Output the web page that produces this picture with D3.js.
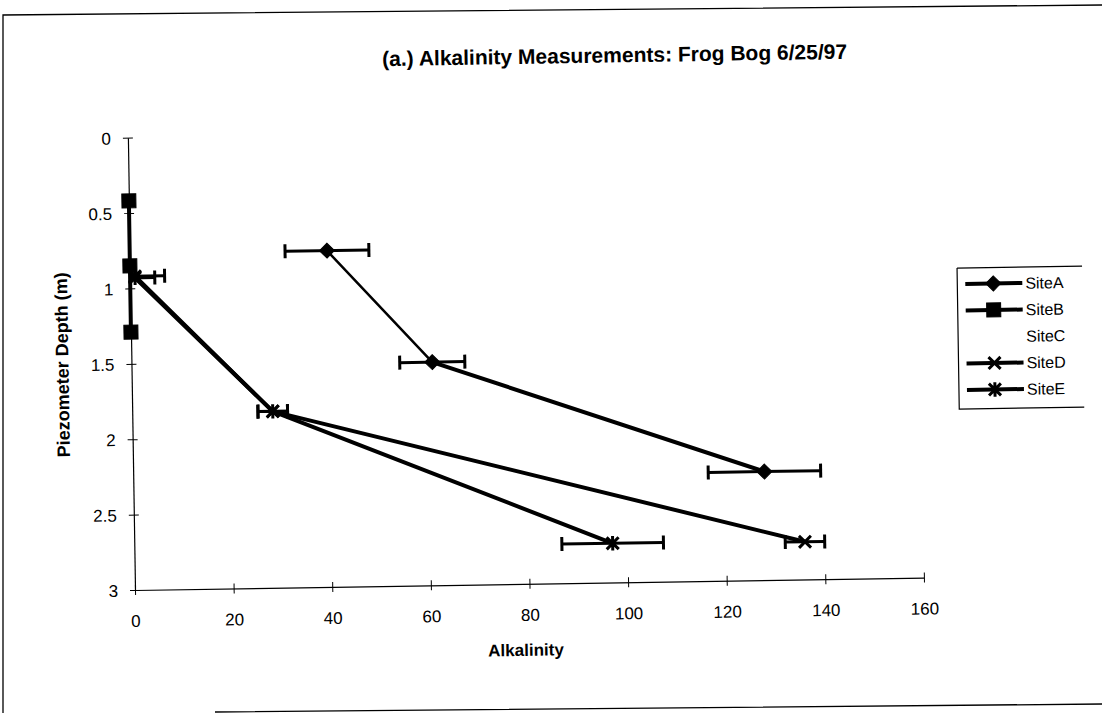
<!DOCTYPE html>
<html>
<head>
<meta charset="utf-8">
<script src="https://cdn.jsdelivr.net/npm/d3@7"></script>
<style>
  body { margin: 0; background: #fff; }
  text { font-family: "Liberation Sans", Arial, sans-serif; fill: #000; }
</style>
</head>
<body>
<svg id="chart"></svg>
<script>
const siteNames = ["SiteA", "SiteB", "SiteC", "SiteD", "SiteE"];

// alkalinity, depth (m), error (+/- alkalinity)
const siteA = [
  { alk: 40, depth: 0.77, err: 8.5 },
  { alk: 61, depth: 1.52, err: 6.6 },
  { alk: 128, depth: 2.28, err: 11.4 }
];
const siteB = [
  { alk: 0, depth: 0.42, err: 0 },
  { alk: 0, depth: 0.85, err: 0 },
  { alk: 0, depth: 1.29, err: 0 }
];
const siteC = [];
const siteD = [
  { alk: 1, depth: 0.92, err: 6 },
  { alk: 28.5, depth: 1.83, err: 3 },
  { alk: 136, depth: 2.75, err: 4 }
];
const siteE = [
  { alk: 1, depth: 0.93, err: 4 },
  { alk: 28.5, depth: 1.83, err: 3 },
  { alk: 97, depth: 2.74, err: 10.3 }
];

const xTicks = [0, 20, 40, 60, 80, 100, 120, 140, 160];
const yTicks = [0, 0.5, 1, 1.5, 2, 2.5, 3];

const series = [
  { name: siteNames[0], values: siteA, marker: "diamond" },
  { name: siteNames[1], values: siteB, marker: "square" },
  { name: siteNames[2], values: siteC, marker: "none" },
  { name: siteNames[3], values: siteD, marker: "x" },
  { name: siteNames[4], values: siteE, marker: "asterisk" }
];

const W = 1102, H = 713;
const svg = d3.select("#chart").attr("width", W).attr("height", H);
svg.append("rect").attr("width", W).attr("height", H).attr("fill", "#fff");

// outer frame of the scanned page
svg.append("path")
  .attr("d", "M3,713 L3,15 L1102,5 M215,712 L1102,704")
  .attr("fill", "none").attr("stroke", "#000").attr("stroke-width", 1.3);

// the scan is slightly tilted
const root = svg.append("g").attr("transform", "rotate(-0.9,135,590)");

const x = d3.scaleLinear().domain([0, 160]).range([135, 924]);
const y = d3.scaleLinear().domain([0, 3]).range([137.6, 590]);

root.append("text")
  .attr("x", 623).attr("y", 70)
  .attr("text-anchor", "middle")
  .style("font-size", "21px").style("font-weight", "bold")
  .text("(a.) Alkalinity Measurements: Frog Bog 6/25/97");

const fmt = d => String(d);

// axes
const gx = root.append("g").attr("transform", `translate(0,${y(3)})`)
  .call(d3.axisBottom(x).tickValues(xTicks).tickFormat(fmt).tickSizeOuter(0).tickPadding(0));
gx.select(".domain").attr("stroke", "#000").attr("stroke-width", 1.2);
gx.selectAll(".tick line").attr("y1", -5).attr("y2", 5).attr("stroke", "#000");
gx.selectAll(".tick text").attr("y", 37).attr("dy", 0)
  .style("font-size", "17px").style("font-family", "Liberation Sans, Arial, sans-serif");

const gy = root.append("g").attr("transform", `translate(${x(0)},0)`)
  .call(d3.axisLeft(y).tickValues(yTicks).tickFormat(fmt).tickSizeOuter(0).tickPadding(0));
gy.select(".domain").attr("stroke", "#000").attr("stroke-width", 1.2);
gy.selectAll(".tick line").attr("x1", -5).attr("x2", 5).attr("stroke", "#000");
gy.selectAll(".tick text").attr("x", -17).attr("dy", "0.36em")
  .style("font-size", "17px").style("font-family", "Liberation Sans, Arial, sans-serif");

root.append("text")
  .attr("x", 525).attr("y", 662)
  .attr("text-anchor", "middle")
  .style("font-size", "17px").style("font-weight", "bold")
  .text("Alkalinity");

root.append("text")
  .attr("transform", `translate(72,${y(1.5)}) rotate(-90)`)
  .attr("text-anchor", "middle")
  .style("font-size", "18px").style("font-weight", "bold")
  .text("Piezometer Depth (m)");

function markerPath(type, s) {
  if (type === "diamond") return `M0,${-s}L${s},0L0,${s}L${-s},0Z`;
  if (type === "square") return `M${-s},${-s}H${s}V${s}H${-s}Z`;
  if (type === "x") return `M${-s},${-s}L${s},${s}M${-s},${s}L${s},${-s}`;
  if (type === "asterisk") return `M${-s},${-s}L${s},${s}M${-s},${s}L${s},${-s}M0,${-s * 1.2}V${s * 1.2}`;
  return "";
}
const markerSize = { diamond: 7.5, square: 7, x: 6, asterisk: 6 };

const plot = root.append("g");

series.forEach(s => {
  if (!s.values.length) return;
  const g = plot.append("g");
  // error bars
  s.values.filter(d => d.err > 0).forEach(d => {
    const x0 = Math.max(x(0), x(d.alk - d.err)), x1 = x(d.alk + d.err), yy = y(d.depth);
    g.append("line").attr("x1", x0).attr("x2", x1).attr("y1", yy).attr("y2", yy)
      .attr("stroke", "#000").attr("stroke-width", 3);
    [x(d.alk - d.err), x1].forEach(xe => {
      if (xe < x(0)) return;
      g.append("line").attr("x1", xe).attr("x2", xe).attr("y1", yy - 7).attr("y2", yy + 7)
        .attr("stroke", "#000").attr("stroke-width", 3);
    });
  });
  // connecting segments (the first SiteA segment prints thinner in the scan)
  d3.pairs(s.values).forEach(([a, b], i) => {
    g.append("line")
      .attr("x1", x(a.alk)).attr("y1", y(a.depth))
      .attr("x2", x(b.alk)).attr("y2", y(b.depth))
      .attr("stroke", "#000")
      .attr("stroke-width", s.name === "SiteA" && i === 0 ? 2.5 : 4)
      .attr("stroke-linecap", "round");
  });
  g.selectAll(".mk").data(s.values).join("path")
    .attr("class", "mk")
    .attr("transform", d => `translate(${x(d.alk)},${y(d.depth)})`)
    .attr("d", markerPath(s.marker, markerSize[s.marker]))
    .attr("fill", "#000").attr("stroke", "#000")
    .attr("stroke-width", s.marker === "x" || s.marker === "asterisk" ? 3 : 1);
});

// legend
const legend = root.append("g").attr("transform", "translate(962,281)");
legend.append("path").attr("d", "M0,0 V141 H125")
  .attr("fill", "none").attr("stroke", "#000").attr("stroke-width", 1.2);
legend.append("line").attr("x1", 0).attr("x2", 125).attr("y1", 0).attr("y2", 0)
  .attr("stroke", "#000").attr("stroke-width", 1.2);
const item = legend.selectAll(".item").data(series).join("g")
  .attr("class", "item")
  .attr("transform", (d, i) => `translate(0,${16 + i * 26.5})`);
item.filter(d => d.values.length).append("line")
  .attr("x1", 8).attr("x2", 65).attr("stroke", "#000").attr("stroke-width", 4);
item.filter(d => d.values.length).append("path")
  .attr("transform", "translate(36,0)")
  .attr("d", d => markerPath(d.marker, markerSize[d.marker]))
  .attr("fill", "#000").attr("stroke", "#000")
  .attr("stroke-width", d => d.marker === "x" || d.marker === "asterisk" ? 3 : 1);
item.append("text").attr("x", 68).attr("dy", "0.36em")
  .style("font-size", "16px").text(d => d.name);
</script>
</body>
</html>
